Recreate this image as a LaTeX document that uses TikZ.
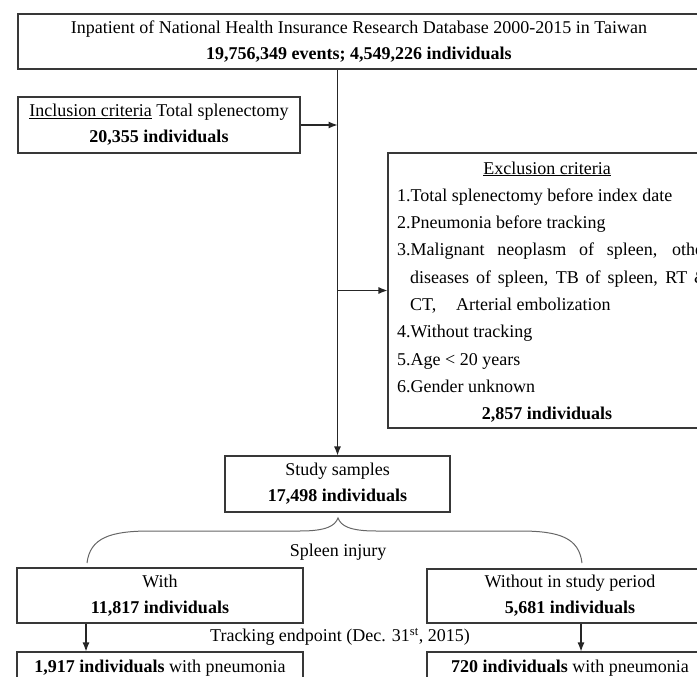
\documentclass[tikz,border=0pt]{standalone}
\usepackage{fontspec}
\setmainfont{Liberation Serif}
\usetikzlibrary{arrows.meta}
\begin{document}
\begin{tikzpicture}[x=1pt,y=-1pt,
  box/.style={draw=black!78,line width=1.1pt,rectangle,inner sep=0pt,align=center,font=\fontsize{18}{26}\selectfont},
  txt/.style={inner sep=0pt,font=\fontsize{18}{22}\selectfont},
  arr/.style={draw=black!85,line width=1.1pt,-{Latex[length=9pt,width=7pt]}},
  brace/.style={draw=black!60,line width=1pt}]
\useasboundingbox (0,0) rectangle (697,677);
\clip (0,0) rectangle (697,677);
% boxes
\node[box,minimum width=682pt,minimum height=55pt] (top) at (359,41.5)
  {Inpatient of National Health Insurance Research Database 2000-2015 in Taiwan\\ \textbf{19,756,349 events; 4,549,226 individuals}};
\node[box,minimum width=282pt,minimum height=56pt] (incl) at (159,125)
  {\underline{Inclusion criteria} Total splenectomy\\ \textbf{20,355 individuals}};
\node[box,minimum width=318pt,minimum height=275pt] (excl) at (547,290.5) {};
\node[box,minimum width=225pt,minimum height=56pt] (study) at (337.5,484)
  {Study samples\\ \textbf{17,498 individuals}};
\node[box,minimum width=286pt,minimum height=55pt] (with) at (160,595.5)
  {With\\ \textbf{11,817 individuals}};
\node[box,minimum width=286pt,minimum height=54pt] (without) at (570,596)
  {Without in study period\\ \textbf{5,681 individuals}};
\node[box,minimum width=286pt,minimum height=32pt] (pn1) at (160,668)
  {\textbf{1,917 individuals} with pneumonia};
\node[box,minimum width=286pt,minimum height=32pt] (pn2) at (570,668)
  {\textbf{720 individuals} with pneumonia};
% exclusion text
\node[txt,anchor=base] (ex0) at (547,174) {\underline{Exclusion criteria}};
\node[txt,anchor=base west] (ex1) at (397,201.3) {1.Total splenectomy before index date};
\node[txt,anchor=base west] (ex2) at (397,228.6) {2.Pneumonia before tracking};
\node[txt,anchor=base west] (ex3) at (397,255.9) {\makebox[312pt][s]{3.Malignant neoplasm of spleen, other}};
\node[txt,anchor=base west] (ex4) at (410,283.2) {\makebox[298pt][s]{diseases of spleen, TB of spleen, RT \&}};
\node[txt,anchor=base west] (ex5) at (410,310.5) {CT,\hspace{1.1em}Arterial embolization};
\node[txt,anchor=base west] (ex6) at (397,337.8) {4.Without tracking};
\node[txt,anchor=base west] (ex7) at (397,365.1) {5.Age < 20 years};
\node[txt,anchor=base west] (ex8) at (397,392.4) {6.Gender unknown};
\node[txt,anchor=base] (ex9) at (547,419.7) {\textbf{2,857 individuals}};
% labels
\node[txt] (spl) at (338,552) {Spleen injury};
\node[txt] (trk) at (340,637) {Tracking endpoint (Dec. 31\textsuperscript{st}, 2015)};
% connectors
\draw[arr] (study.north |- top.south) -- (study.north);
\draw[arr] (incl.east) -- (incl.east -| study.north);
\draw[arr] (excl.west -| study.north) -- (excl.west);
\draw[arr] ([xshift=-74pt]with.south) -- ([xshift=-74pt]pn1.north);
\draw[arr] ([xshift=11pt]without.south) -- ([xshift=11pt]pn2.north);
% brace
\coordinate (bl) at (87,563);
\coordinate (bt) at (338,518);
\coordinate (br) at (582,563);
\draw[brace] (bl) .. controls (90,538) and (110,531) .. (150,531) -- (300,531)
  .. controls (326,531) and (335,526) .. (bt)
  .. controls (341,526) and (350,531) .. (376,531) -- (520,531)
  .. controls (560,531) and (579,538) .. (br);
\end{tikzpicture}
\end{document}
